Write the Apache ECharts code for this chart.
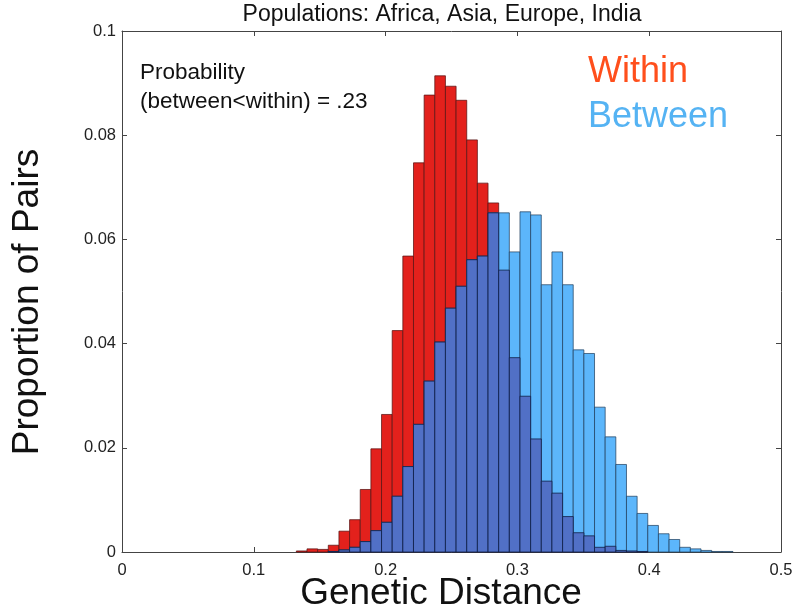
<!DOCTYPE html>
<html>
<head>
<meta charset="utf-8">
<script src="https://cdn.jsdelivr.net/npm/echarts@6/dist/echarts.min.js"></script>
<style>html,body{margin:0;padding:0;background:#fff}#c{width:799px;height:615px}</style>
</head>
<body>
<div id="c"></div>
<script>
// Histogram bins (regular bins)
const binStart = 0.003;
const binWidth = 0.00808;
// Proportions per bin, index 0..61
const within = [
  0,0,0,0,0,0,0,0,0,0,0,0,0,0,0,0,
  0.0002,0.0006,0.0005,0.0013,0.0040,0.0062,0.0120,0.0198,0.0264,0.0425,
  0.0568,0.0747,0.0877,0.0914,0.0894,0.0867,0.0791,0.0708,0.0670,0.0541,
  0.0373,0.0299,0.0217,0.0136,0.0113,0.0068,0.0037,0.0031,0.0009,0.0011,
  0.0003,0.0002,0.0001,0,0,0,0,0,0,0,0,0,0,0,0,0
];
const between = [
  0,0,0,0,0,0,0,0,0,0,0,0,0,0,0,0,
  0,0,0,0.0001,0.0004,0.0009,0.0020,0.0041,0.0057,0.0107,
  0.0164,0.0245,0.0328,0.0403,0.0468,0.0510,0.0561,0.0568,0.0651,0.0651,
  0.0576,0.0653,0.0647,0.0513,0.0576,0.0513,0.0388,0.0381,0.0278,0.0221,
  0.0168,0.0107,0.0074,0.0051,0.0035,0.0024,0.0009,0.0006,0.0003,0.0001,
  0.0001,0,0,0,0,0
];
const xTicks = [0, 0.1, 0.2, 0.3, 0.4, 0.5];
const yTicks = [0, 0.02, 0.04, 0.06, 0.08, 0.1];

const titleText = 'Populations: Africa, Asia, Europe, India';
const xName = 'Genetic Distance';
const yName = 'Proportion of Pairs';
const noteLines = ['Probability', '(between<within) = .23'];
const legendWithin = 'Within';
const legendBetween = 'Between';

const FONT = '"Liberation Sans", Arial, Helvetica, sans-serif';

function toBins(vals) {
  return vals.map((v, i) => [binStart + i * binWidth, binStart + (i + 1) * binWidth, v]);
}
const overlap = within.map((v, i) => Math.min(v, between[i]));

function makeRender(fill, stroke) {
  return function (params, api) {
    const v = api.value(2);
    if (!(v > 0)) return null;
    const p0 = api.coord([api.value(0), v]);
    const p1 = api.coord([api.value(1), 0]);
    return {
      type: 'rect',
      shape: { x: p0[0], y: p0[1], width: p1[0] - p0[0], height: p1[1] - p0[1] },
      style: { fill: fill, stroke: stroke, lineWidth: 1 }
    };
  };
}

const chart = echarts.init(document.getElementById('c'), null, { renderer: 'canvas' });

const axisLineStyle = { color: '#444', width: 1 };
const fmt = v => String(Math.round(v * 1000) / 1000);

chart.setOption({
  animation: false,
  backgroundColor: '#fff',
  grid: { left: 122, right: 18, top: 31, bottom: 63 },
  xAxis: [{
    type: 'value', min: 0, max: 0.5, interval: 0.1,
    axisLine: { show: true, onZero: false, lineStyle: axisLineStyle },
    axisTick: { show: true, inside: true, length: 5, lineStyle: axisLineStyle },
    axisLabel: { color: '#222', fontSize: 16.5, fontFamily: FONT, margin: 10,
      formatter: v => xTicks.some(t => Math.abs(t - v) < 1e-9) ? fmt(v) : '' },
    splitLine: { show: false }
  }, {
    type: 'value', position: 'top', min: 0, max: 0.5, interval: 0.1,
    axisLine: { show: true, onZero: false, lineStyle: axisLineStyle },
    axisTick: { show: true, inside: true, length: 5, lineStyle: axisLineStyle },
    axisLabel: { show: false }, splitLine: { show: false }
  }],
  yAxis: [{
    type: 'value', min: 0, max: 0.1, interval: 0.02,
    axisLine: { show: true, onZero: false, lineStyle: axisLineStyle },
    axisTick: { show: true, inside: true, length: 5, lineStyle: axisLineStyle },
    axisLabel: { color: '#222', fontSize: 16.5, fontFamily: FONT, margin: 6,
      formatter: v => yTicks.some(t => Math.abs(t - v) < 1e-9) ? fmt(v) : '' },
    splitLine: { show: false }
  }, {
    type: 'value', position: 'right', min: 0, max: 0.1, interval: 0.02,
    axisLine: { show: true, onZero: false, lineStyle: axisLineStyle },
    axisTick: { show: true, inside: true, length: 5, lineStyle: axisLineStyle },
    axisLabel: { show: false }, splitLine: { show: false }
  }],
  series: [
    { type: 'custom', name: 'Within', data: toBins(within), encode: { x: [0, 1], y: 2 },
      renderItem: makeRender('#e3211c', 'rgba(90,20,20,0.75)'), z: 2 },
    { type: 'custom', name: 'Between', data: toBins(between), encode: { x: [0, 1], y: 2 },
      renderItem: makeRender('#5cb6fb', 'rgba(30,60,90,0.7)'), z: 3 },
    { type: 'custom', name: 'Overlap', data: toBins(overlap), encode: { x: [0, 1], y: 2 },
      renderItem: makeRender('#5170c6', 'rgba(15,30,70,0.8)'), z: 4 }
  ],
  graphic: [
    { type: 'text', x: 442, y: 15, style: { text: titleText, font: '23px ' + FONT, fill: '#111', textAlign: 'center', textVerticalAlign: 'middle' } },
    { type: 'text', x: 441, y: 594, style: { text: xName, font: '37px ' + FONT, fill: '#111', textAlign: 'center', textVerticalAlign: 'middle' } },
    { type: 'text', x: 28, y: 302, rotation: Math.PI / 2, style: { text: yName, font: '37px ' + FONT, fill: '#111', textAlign: 'center', textVerticalAlign: 'middle' } },
    { type: 'text', x: 140, y: 73, style: { text: noteLines[0], font: '22.5px ' + FONT, fill: '#111', textVerticalAlign: 'middle' } },
    { type: 'text', x: 140, y: 102, style: { text: noteLines[1], font: '22.5px ' + FONT, fill: '#111', textVerticalAlign: 'middle' } },
    { type: 'text', x: 588, y: 72, style: { text: legendWithin, font: '36px ' + FONT, fill: '#ff4f1c', textVerticalAlign: 'middle' } },
    { type: 'text', x: 588, y: 117, style: { text: legendBetween, font: '36px ' + FONT, fill: '#55b3f3', textVerticalAlign: 'middle' } }
  ]
});
</script>
</body>
</html>
